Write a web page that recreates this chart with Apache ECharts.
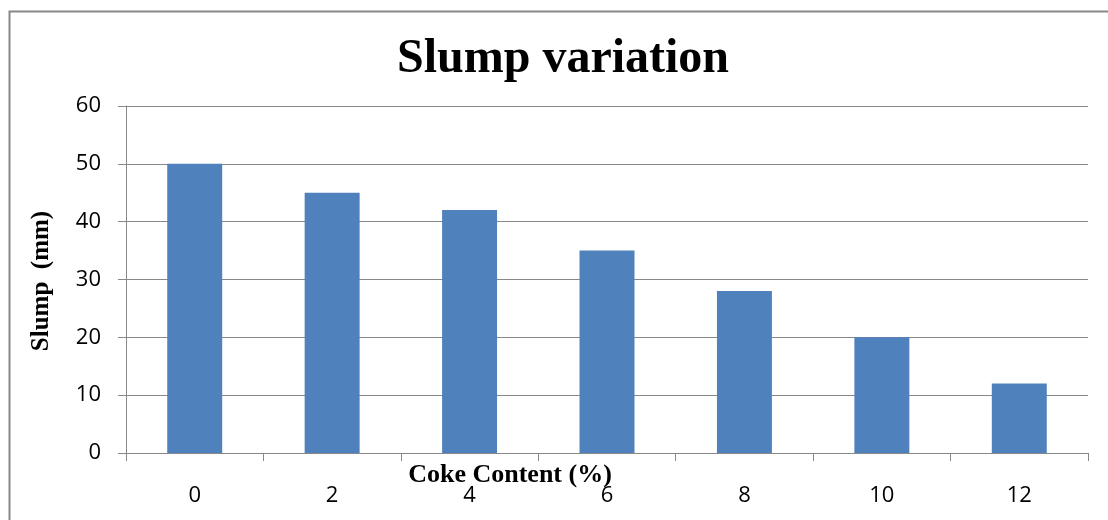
<!DOCTYPE html>
<html>
<head>
<meta charset="utf-8">
<title>Slump variation</title>
<script src="https://cdn.jsdelivr.net/npm/echarts@6/dist/echarts.min.js"></script>
<style>
  html, body { margin: 0; padding: 0; background: #fff; }
  #chart { width: 1108px; height: 520px; }
</style>
</head>
<body>
<div id="chart"></div>
<script>
  // coke content (%) on x, slump (mm) on y
  const categories = ['0', '2', '4', '6', '8', '10', '12']
  const slump = [50, 45, 42, 35, 28, 20, 12]
  const yTicks = { min: 0, max: 60, interval: 10 }

  const serif = '"Liberation Serif", "DejaVu Serif", serif'
  const sans = '"Open Sans", "Liberation Sans", sans-serif'

  const chart = echarts.init(document.getElementById('chart'))
  chart.setOption({
    animation: false,
    color: ['#4F81BD'],
    title: [
      {
        text: 'Slump variation',
        left: 558,
        textAlign: 'center',
        top: 31,
        textStyle: { fontFamily: serif, fontWeight: 'bold', fontSize: 48, color: '#000' }
      },
      {
        text: 'Coke Content (%)',
        left: 505,
        textAlign: 'center',
        top: 457,
        textStyle: { fontFamily: serif, fontWeight: 'bold', fontSize: 26, color: '#000' }
      }
    ],
    graphic: [
      {
        // outer chart frame (runs off right and bottom edges)
        type: 'rect',
        shape: { x: 9.5, y: 11.5, width: 1200, height: 600 },
        style: { fill: 'none', stroke: '#888', lineWidth: 2 },
        z: -1
      },
      {
        type: 'text',
        x: 42, y: 281,
        rotation: Math.PI / 2,
        style: {
          text: 'Slump  (mm)',
          font: 'bold 25px ' + serif,
          fill: '#000',
          textAlign: 'center',
          textVerticalAlign: 'middle'
        }
      }
    ],
    grid: { left: 126, right: 20, top: 106, bottom: 67 },
    xAxis: {
      type: 'category',
      data: categories,
      axisLine: { lineStyle: { color: '#888', width: 1 } },
      axisTick: { show: true, length: 8, alignWithLabel: false, lineStyle: { color: '#888' } },
      axisLabel: { margin: 32, fontFamily: sans, fontSize: 22, color: '#000' }
    },
    yAxis: {
      type: 'value',
      min: yTicks.min,
      max: yTicks.max,
      interval: yTicks.interval,
      axisLine: { show: true, lineStyle: { color: '#888', width: 1 } },
      axisTick: { show: true, length: 8, lineStyle: { color: '#888' } },
      axisLabel: { margin: 25, fontFamily: sans, fontSize: 22, color: '#000' },
      splitLine: { lineStyle: { color: '#888', width: 1 } }
    },
    series: [
      {
        name: 'Slump',
        type: 'bar',
        barWidth: '40%',
        data: slump
      }
    ]
  })
</script>
</body>
</html>
